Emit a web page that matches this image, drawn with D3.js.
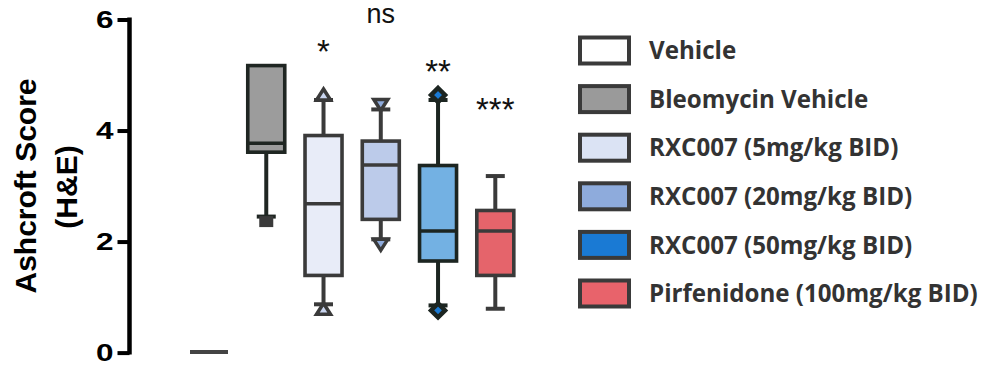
<!DOCTYPE html>
<html>
<head>
<meta charset="utf-8">
<script src="https://cdn.jsdelivr.net/npm/d3@7"></script>
<style>
  html, body { margin: 0; padding: 0; background: #ffffff; }
  svg { display: block; }
</style>
</head>
<body>
<svg id="chart" width="983" height="367"></svg>
<script>
// ---- data ----
const categories = ["Vehicle", "Bleomycin Vehicle", "RXC007 (5mg/kg BID)", "RXC007 (20mg/kg BID)", "RXC007 (50mg/kg BID)", "Pirfenidone (100mg/kg BID)"];
const mins    = [0, 2.45, 0.87, 2.04, 0.85, 0.79];
const q1s     = [0, 3.61, 1.39, 2.40, 1.65, 1.39];
const medians = [0, 3.77, 2.68, 3.38, 2.19, 2.19];
const q3s     = [0, 5.17, 3.91, 3.81, 3.37, 2.56];
const maxs    = [0, 5.17, 4.55, 4.38, 4.55, 3.18];
const significance = ["", "", "*", "ns", "**", "***"];
const yTicks = [0, 2, 4, 6];

// ---- styles ----
const boxFills    = ["#ffffff", "#9c9c9c", "#e8ecf8", "#bccbea", "#73b1e3", "#e5646b"];
const boxStrokes  = ["#3d3d3d", "#1f2622", "#3a3a3a", "#3b3b3b", "#1c2521", "#3a3a3a"];
const legendFills = ["#ffffff", "#9a9a9a", "#dbe3f4", "#8eabdc", "#1a7ad4", "#e8636b"];
const markerTypes = [null, "square", "triangleUp", "triangleDown", "diamond", null];
const markerFills = [null, "#3a3a3a", "#c9d5ef", "#8eabdc", "#1a7ad4", null];
const sigY = [0, 0, 63, 23, 83, 121];
const sigSize = [0, 0, 33, 27, 33, 33];

const svg = d3.select("#chart");

const x = d3.scalePoint().domain(categories).range([209, 495.3]);
const y = d3.scaleLinear().domain([0, 6]).range([352.6, 19.5]);
const boxW = 37;

// ---- y axis ----
const axisG = svg.append("g").attr("transform", "translate(129.5,0)");
const axis = d3.axisLeft(y).tickValues(yTicks).tickSize(12).tickPadding(6).tickFormat(d3.format("d"));
axisG.call(axis);
axisG.select(".domain").attr("stroke", "#000").attr("stroke-width", 4.5).attr("d", `M0,${y(0)+2}V${y(6)-2}`);
axisG.selectAll(".tick line").attr("stroke", "#000").attr("stroke-width", 4);
axisG.selectAll(".tick text")
  .attr("fill", "#000")
  .attr("font-family", "'Liberation Sans', Arial, sans-serif")
  .attr("font-weight", "bold")
  .attr("font-size", 23)
  .attr("text-anchor", "end")
  .attr("dy", "0.36em")
  .attr("x", null)
  .attr("transform", "translate(-16,0) scale(1.37,1)");

// ---- y label ----
const yl = svg.append("g").attr("font-family", "'Liberation Sans', Arial, sans-serif")
  .attr("font-weight", "bold").attr("font-size", 30).attr("fill", "#000").attr("text-anchor", "middle");
yl.append("text").attr("transform", "translate(36,186) rotate(-90)").text("Ashcroft Score");
yl.append("text").attr("transform", "translate(77,187) rotate(-90)").text("(H&E)");

// ---- boxes ----
const idx = d3.range(categories.length);
const g = svg.append("g");

idx.forEach(i => {
  const cx = x(categories[i]);
  const gi = g.append("g");
  if (q3s[i] === q1s[i] && maxs[i] === mins[i]) {
    // zero-range group: single line
    gi.append("line").attr("x1", cx - 19).attr("x2", cx + 19)
      .attr("y1", y(medians[i]) - 0.5).attr("y2", y(medians[i]) - 0.5)
      .attr("stroke", "#444").attr("stroke-width", 4);
    return;
  }
  const st = boxStrokes[i];
  // whiskers
  gi.append("line").attr("x1", cx).attr("x2", cx).attr("y1", y(maxs[i])).attr("y2", y(q3s[i]))
    .attr("stroke", st).attr("stroke-width", 4);
  gi.append("line").attr("x1", cx).attr("x2", cx).attr("y1", y(q1s[i])).attr("y2", y(mins[i]))
    .attr("stroke", st).attr("stroke-width", 4);
  // caps
  [maxs[i], mins[i]].forEach(v => {
    if (v === q3s[i] || v === q1s[i]) return;
    gi.append("line").attr("x1", cx - 9.5).attr("x2", cx + 9.5).attr("y1", y(v)).attr("y2", y(v))
      .attr("stroke", st).attr("stroke-width", 4);
  });
  // box
  gi.append("rect").attr("x", cx - boxW / 2).attr("y", y(q3s[i]))
    .attr("width", boxW).attr("height", y(q1s[i]) - y(q3s[i]))
    .attr("fill", boxFills[i]).attr("stroke", st).attr("stroke-width", 3.6);
  gi.append("line").attr("x1", cx - boxW / 2).attr("x2", cx + boxW / 2)
    .attr("y1", y(medians[i])).attr("y2", y(medians[i]))
    .attr("stroke", st).attr("stroke-width", 3.6);
  // markers at whisker ends (outside the cap)
  const mt = markerTypes[i];
  if (mt) {
    [[maxs[i], -1], [mins[i], 1]].forEach(([v, dir]) => {
      if (v === q3s[i] || v === q1s[i]) return;
      const my = y(v) + dir * 5;
      let p;
      if (mt === "square") {
        gi.append("rect").attr("x", cx - 7).attr("y", my - 5.5).attr("width", 14).attr("height", 11)
          .attr("fill", markerFills[i]);
        return;
      } else if (mt === "triangleUp") {
        p = `M${cx},${my - 6}L${cx + 7},${my + 5}L${cx - 7},${my + 5}Z`;
      } else if (mt === "triangleDown") {
        p = `M${cx - 7},${my - 5}L${cx + 7},${my - 5}L${cx},${my + 6}Z`;
      } else if (mt === "diamond") {
        p = `M${cx},${my - 7}L${cx + 7},${my}L${cx},${my + 7}L${cx - 7},${my}Z`;
      }
      gi.append("path").attr("d", p).attr("fill", markerFills[i]).attr("stroke", st)
        .attr("stroke-width", mt === "diamond" ? 4.5 : 3.5).attr("stroke-linejoin", "miter");
    });
  }
});

// ---- significance labels ----
idx.forEach(i => {
  if (!significance[i]) return;
  svg.append("text").attr("x", x(categories[i])).attr("y", sigY[i])
    .attr("text-anchor", "middle")
    .attr("font-family", "'Liberation Sans', Arial, sans-serif")
    .attr("font-size", sigSize[i]).attr("fill", "#111")
    .text(significance[i]);
});

// ---- legend ----
const legend = svg.append("g");
const rowY = d3.scaleLinear().domain([0, 5]).range([50.5, 293.5]);
const legendFont = "'Open Sans', Lato, sans-serif";
// fit font size so the longest label spans the same width as the reference
const probe = svg.append("text").attr("font-family", legendFont).attr("font-weight", 700)
  .attr("font-size", 20).text(categories[5]);
const w20 = probe.node().getComputedTextLength();
probe.remove();
const legendSize = 20 * 329 / w20;

idx.forEach(i => {
  const cy = rowY(i);
  legend.append("rect").attr("x", 580).attr("y", cy - 13).attr("width", 49).attr("height", 26)
    .attr("fill", legendFills[i]).attr("stroke", "#3a3a3a").attr("stroke-width", 4);
  legend.append("text").attr("x", 649).attr("y", cy).attr("dy", "0.36em")
    .attr("font-family", legendFont).attr("font-weight", 700).attr("font-size", legendSize)
    .attr("fill", "#333").text(categories[i]);
});
</script>
</body>
</html>
